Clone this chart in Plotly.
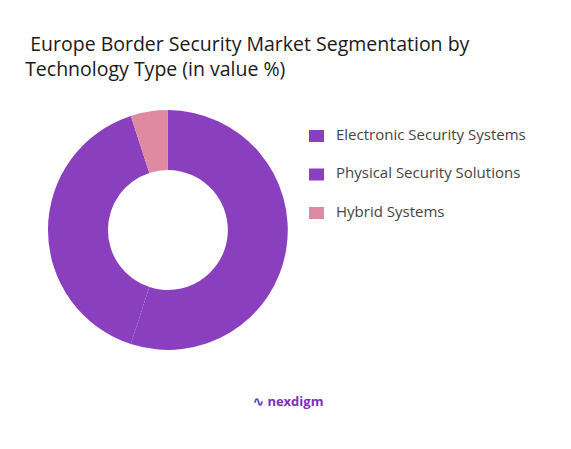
import plotly.graph_objects as go

# segment shares
segments = ["Electronic Security Systems", "Physical Security Solutions", "Hybrid Systems"]
shares = [55, 40, 5]
colors = ["#8A3FBF", "#8A3FBF", "#DE8AA0"]

fig = go.Figure(
    go.Pie(
        labels=segments,
        values=shares,
        hole=0.5,
        sort=False,
        direction="clockwise",
        rotation=0,
        marker=dict(colors=colors),
        textinfo="none",
        hoverinfo="label+percent",
        showlegend=False,
        domain=dict(x=[0.07, 0.49], y=[0.238, 0.773]),
    )
)

fig.update_layout(
    width=571,
    height=449,
    paper_bgcolor="white",
    plot_bgcolor="white",
    margin=dict(l=0, r=0, t=0, b=0),
    font=dict(family="Open Sans", color="#333333"),
    title=dict(
        text="<b> </b>Europe Border Security Market Segmentation by<br>Technology Type (in value %)",
        x=0.03, xanchor="left", y=0.905, yanchor="top",
        font=dict(size=19.5, color="#1a1a1a", weight=500),
    ),
)

# legend drawn by hand to get the wide row spacing
for i, (name, col) in enumerate(zip(segments, colors)):
    yc = 128 + i * 38.5
    fig.add_shape(type="rect", xref="paper", yref="paper",
                  x0=301 / 571, x1=316 / 571,
                  y0=1 - (yc + 6) / 449, y1=1 - (yc - 6) / 449,
                  fillcolor=col, line=dict(width=0))
    fig.add_annotation(text=name, xref="paper", yref="paper",
                       x=326 / 571, y=1 - (yc - 2) / 449, xanchor="left", yanchor="middle",
                       showarrow=False, font=dict(size=15, color="#444444"))

# brand mark at the bottom
fig.add_annotation(
    text="<b>∿ nexdigm</b>", x=0.49, y=0.1, xref="paper", yref="paper",
    showarrow=False, font=dict(size=13, color="#7B2FBE"),
)

fig.write_html("out.html")
